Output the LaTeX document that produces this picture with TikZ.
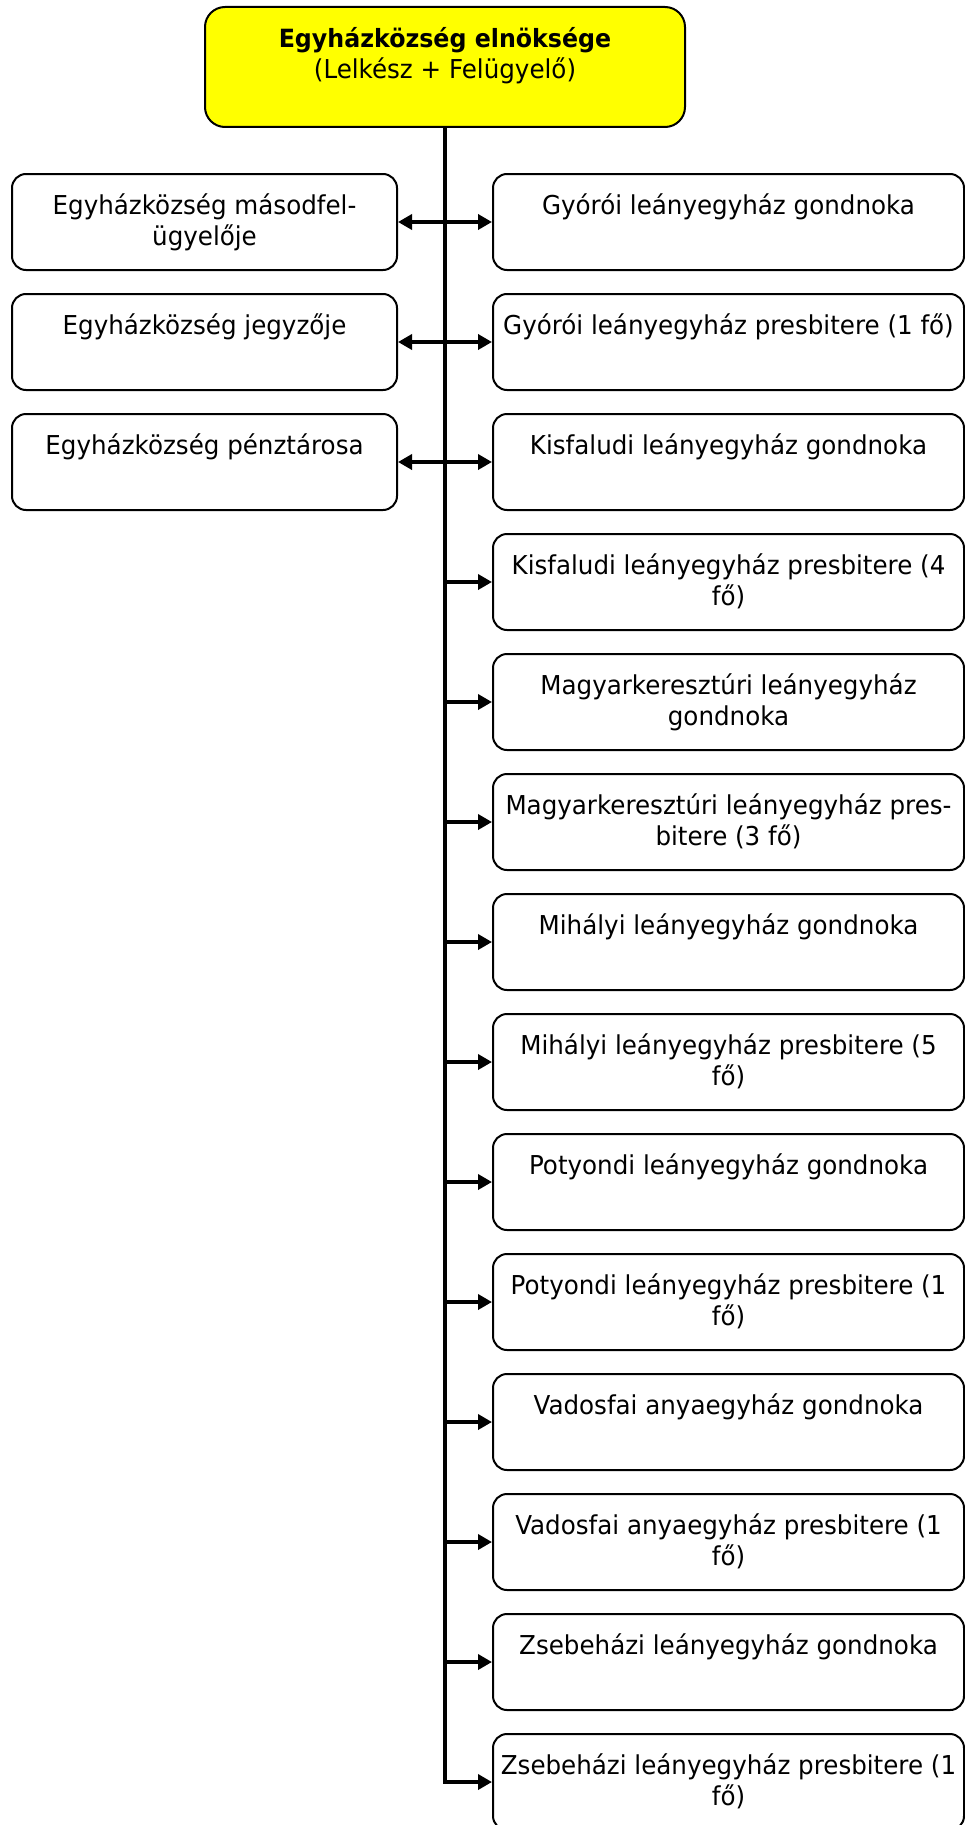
\documentclass[tikz,border=0pt]{standalone}
\usepackage{fontspec}
\setmainfont{DejaVu Sans}[FakeStretch=0.945]
\usetikzlibrary{arrows.meta}
\definecolor{boxyellow}{RGB}{255,255,0}
\begin{document}
\begin{tikzpicture}[x=1pt,y=-1pt,
  box/.style={draw=black, line width=2pt, rounded corners=14pt, minimum height=96pt, inner sep=0pt, anchor=north west},
  lbox/.style={box, minimum width=385pt},
  rbox/.style={box, minimum width=471pt},
  lbl/.style={anchor=north, inner sep=0pt, align=center, font=\fontsize{26}{31}\selectfont},
  conn/.style={line width=3.5pt, -{Triangle[length=14pt,width=15pt]}},
  both/.style={line width=4.5pt, {Triangle[length=14pt,width=15pt]}-{Triangle[length=14pt,width=15pt]}},
]
\useasboundingbox (0,0) rectangle (964,1825);
\node[box, fill=boxyellow, minimum width=480pt, minimum height=120pt, rounded corners=20pt] (top) at (204,6) {};
\node[lbl] (topt) at ([yshift=-11pt]top.north) {\rule{0pt}{30pt}{\fontsize{25.1}{31}\selectfont\textbf{Egyházközség elnöksége}}\\(Lelkész + Felügyelő)};
\foreach \i/\t in {1/{Egyházközség másodfel-\\ügyelője}, 2/{Egyházközség jegyzője}, 3/{Egyházközség pénztárosa}} {
  \node[lbox] (l\i) at (11,{173+120*(\i-1)}) {};
  \node[lbl] (lt\i) at ([yshift=-11pt]l\i.north) {\rule{0pt}{30pt}\t};
}
\foreach \i/\t in {
  1/{Gyórói leányegyház gondnoka},
  2/{Gyórói leányegyház presbitere (1 fő)},
  3/{Kisfaludi leányegyház gondnoka},
  4/{Kisfaludi leányegyház presbitere (4\\fő)},
  5/{Magyarkeresztúri leányegyház\\gondnoka},
  6/{Magyarkeresztúri leányegyház pres-\\bitere (3 fő)},
  7/{Mihályi leányegyház gondnoka},
  8/{Mihályi leányegyház presbitere (5\\fő)},
  9/{Potyondi leányegyház gondnoka},
  10/{Potyondi leányegyház presbitere (1\\fő)},
  11/{Vadosfai anyaegyház gondnoka},
  12/{Vadosfai anyaegyház presbitere (1\\fő)},
  13/{Zsebeházi leányegyház gondnoka},
  14/{Zsebeházi leányegyház presbitere (1\\fő)}} {
  \node[rbox] (r\i) at (492,{173+120*(\i-1)}) {};
  \node[lbl] (rt\i) at ([yshift=-11pt]r\i.north) {\rule{0pt}{30pt}\t};
}
\draw[conn] (top.south) |- (r14.west);
\foreach \i in {4,...,13} {
  \draw[conn] (top.south |- r\i.west) -- (r\i.west);
}
\foreach \i in {1,2,3} {
  \draw[both] (l\i.east) -- (r\i.west);
}
\end{tikzpicture}
\end{document}
